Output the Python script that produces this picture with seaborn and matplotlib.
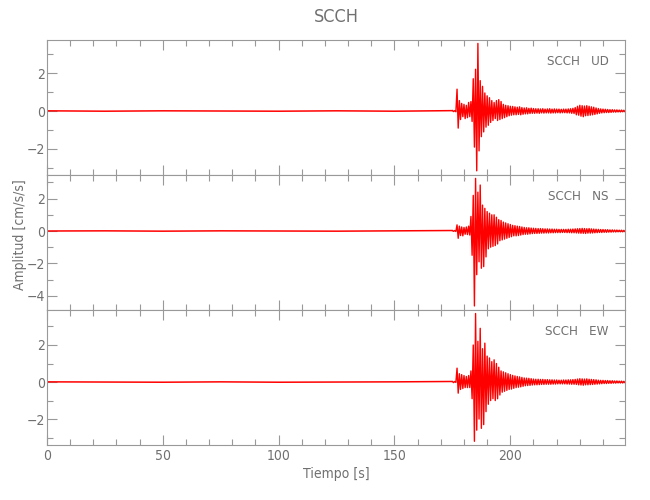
import numpy as np
import pandas as pd
import matplotlib
matplotlib.use('Agg')
import matplotlib.pyplot as plt
from matplotlib.ticker import MultipleLocator
import seaborn as sns

station = 'SCCH'
components = ['UD', 'NS', 'EW']

# tramo tranquilo antes del arribo P (s, cm/s/s)
quiet_time = [0, 25, 50, 75, 100, 125, 150, 175]
quiet_ud = [0.01, -0.01, 0.01, 0.0, -0.01, 0.01, -0.01, 0.02]
quiet_ns = [0.0, 0.01, -0.01, 0.01, 0.0, -0.01, 0.01, 0.03]
quiet_ew = [0.01, 0.0, -0.01, 0.01, -0.01, 0.0, 0.01, 0.03]

# tramo activo: picos leidos cada 0.5 s desde 175 s
t_start = 175.0
dt = 0.5
active_ud = [
    0.03, -0.03, 0.02, -0.04,
    1.15, -0.9, 0.55, -0.45, 0.4, -0.3, 0.35, -0.4, 0.3, -0.35, 0.45, -0.3, 0.5, -0.55,
    1.7, -1.9, 2.2, -3.15, 3.56, -2.1, 1.6, -1.35, 1.3, -1.1, 0.95, -0.85, 0.8, -0.75, 0.7, -0.6, 0.55, -0.5,
    0.45, -0.4, 0.55, -0.5, 0.6, -0.45, 0.5, -0.4, 0.35, -0.35, 0.3, -0.3, 0.28, -0.25,
    0.25, -0.22, 0.24, -0.2, 0.22, -0.2, 0.2, -0.18, 0.22, -0.2, 0.18, -0.17, 0.16, -0.15, 0.17, -0.15, 0.14, -0.13, 0.15, -0.12,
    0.13, -0.12, 0.12, -0.11, 0.12, -0.12, 0.11, -0.1, 0.12, -0.11, 0.1, -0.1, 0.11, -0.1, 0.12, -0.11, 0.1, -0.1,
    0.11, -0.1, 0.1, -0.09, 0.1, -0.1, 0.09, -0.09, 0.1, -0.09, 0.1, -0.1, 0.11, -0.1, 0.12, -0.12, 0.14, -0.13,
    0.18, -0.2, 0.25, -0.22, 0.3, -0.27, 0.28, -0.3, 0.26, -0.25, 0.28, -0.24, 0.25, -0.22, 0.22, -0.2, 0.2, -0.18, 0.16, -0.15,
    0.13, -0.12, 0.11, -0.1, 0.1, -0.09, 0.09, -0.08, 0.08, -0.08, 0.07, -0.07, 0.07, -0.06, 0.06, -0.06, 0.06, -0.05,
    0.05, -0.05, 0.05, -0.04, 0.04, -0.04, 0.03,
]
active_ns = [
    0.03, -0.02, 0.03, -0.03,
    0.38, -0.45, 0.3, -0.28, 0.25, -0.3, 0.22, -0.2, 0.25, -0.22, 0.3, -0.25, 0.9, -1.5,
    2.2, -4.63, 3.25, -2.7, 2.4, -1.9, 2.84, -2.3, 1.6, -2.2, 1.4, -1.6, 1.2, -1.1, 1.1, -1.0, 1.0, -0.95,
    1.0, -0.9, 0.85, -0.8, 0.7, -0.6, 0.65, -0.55, 0.55, -0.5, 0.5, -0.45, 0.45, -0.4,
    0.4, -0.35, 0.35, -0.3, 0.33, -0.3, 0.3, -0.28, 0.28, -0.25, 0.25, -0.22, 0.22, -0.2, 0.2, -0.2, 0.2, -0.18, 0.18, -0.16,
    0.17, -0.15, 0.16, -0.15, 0.15, -0.14, 0.15, -0.13, 0.14, -0.13, 0.13, -0.12, 0.13, -0.12, 0.12, -0.11, 0.12, -0.11,
    0.11, -0.1, 0.11, -0.1, 0.1, -0.1, 0.1, -0.09, 0.1, -0.09, 0.1, -0.1, 0.11, -0.1, 0.11, -0.11, 0.12, -0.11,
    0.13, -0.12, 0.14, -0.13, 0.15, -0.14, 0.16, -0.14, 0.15, -0.15, 0.14, -0.13, 0.15, -0.13, 0.13, -0.12, 0.12, -0.11, 0.11, -0.1,
    0.1, -0.09, 0.09, -0.09, 0.09, -0.08, 0.08, -0.08, 0.08, -0.07, 0.07, -0.07, 0.07, -0.06, 0.06, -0.06, 0.06, -0.05,
    0.05, -0.05, 0.05, -0.05, 0.04, -0.04, 0.04,
]
active_ew = [
    0.03, -0.03, 0.03, -0.02,
    0.75, -0.6, 0.45, -0.4, 0.4, -0.35, 0.35, -0.3, 0.3, -0.3, 0.35, -0.3, 0.6, -0.9,
    2.0, -3.2, 3.7, -2.6, 2.2, -2.0, 2.9, -2.5, 1.8, -2.3, 2.1, -1.6, 1.4, -1.2, 1.3, -1.0, 1.1, -0.9,
    1.2, -1.0, 1.0, -0.9, 0.8, -0.7, 0.6, -0.55, 0.55, -0.5, 0.5, -0.45, 0.45, -0.4,
    0.4, -0.38, 0.36, -0.34, 0.33, -0.3, 0.3, -0.28, 0.28, -0.26, 0.25, -0.23, 0.22, -0.2, 0.21, -0.19, 0.2, -0.18, 0.18, -0.16,
    0.16, -0.15, 0.15, -0.15, 0.15, -0.14, 0.14, -0.13, 0.14, -0.13, 0.13, -0.12, 0.13, -0.12, 0.12, -0.12, 0.12, -0.11,
    0.11, -0.11, 0.11, -0.1, 0.1, -0.1, 0.1, -0.1, 0.11, -0.1, 0.11, -0.11, 0.12, -0.11, 0.12, -0.12, 0.13, -0.12,
    0.14, -0.13, 0.16, -0.15, 0.18, -0.16, 0.17, -0.17, 0.16, -0.15, 0.17, -0.15, 0.15, -0.14, 0.14, -0.13, 0.13, -0.12, 0.12, -0.11,
    0.1, -0.1, 0.09, -0.09, 0.09, -0.08, 0.08, -0.08, 0.08, -0.07, 0.07, -0.07, 0.07, -0.06, 0.06, -0.06, 0.06, -0.05,
    0.05, -0.05, 0.05, -0.05, 0.04, -0.04, 0.04,
]

ylims = {'UD': (-3.37, 3.74), 'NS': (-4.88, 3.46), 'EW': (-3.4, 3.89)}

quiet = {'UD': quiet_ud, 'NS': quiet_ns, 'EW': quiet_ew}
active = {'UD': active_ud, 'NS': active_ns, 'EW': active_ew}

sns.set_style('ticks')
plt.rcParams['font.family'] = ['DejaVu Sans']
plt.rcParams['font.stretch'] = 'condensed'
plt.rcParams['font.weight'] = 'light'

gray_txt = '#707070'
gray_ax = '#999999'
fs = 10

fig = plt.figure(figsize=(6.5, 5), dpi=100)
left, width, h = 47 / 650, 578 / 650, 135 / 500
bottoms = [1 - 175 / 500, 1 - 310 / 500, 1 - 445 / 500]

axes = []
for comp, b in zip(components, bottoms):
    ax = fig.add_axes([left, b, width, h])
    axes.append(ax)

    dq = pd.DataFrame({'t': quiet_time, 'a': quiet[comp]})
    vals = active[comp]
    da = pd.DataFrame({'t': t_start + dt * np.arange(len(vals)), 'a': vals})
    sns.lineplot(data=dq, x='t', y='a', ax=ax, color='red', lw=1.1,
                 estimator=None, sort=False)
    sns.lineplot(data=da, x='t', y='a', ax=ax, color='red', lw=1.0,
                 estimator=None, sort=False)

    ax.set_xlim(0, 249.5)
    ax.set_ylim(*ylims[comp])
    ax.xaxis.set_major_locator(MultipleLocator(50))
    ax.xaxis.set_minor_locator(MultipleLocator(10))
    ax.yaxis.set_major_locator(MultipleLocator(2))
    ax.yaxis.set_minor_locator(MultipleLocator(1))
    ax.tick_params(which='both', direction='in', top=True, right=True,
                   color=gray_ax, labelcolor=gray_txt, labelsize=fs)
    ax.tick_params(axis='y', pad=1.5)
    ax.tick_params(axis='x', pad=3)
    ax.tick_params(which='major', length=7, width=0.8)
    ax.tick_params(which='minor', length=4, width=0.8)
    for s in ax.spines.values():
        s.set_color(gray_ax)
        s.set_linewidth(0.8)
    ax.set_xlabel('')
    ax.set_ylabel('')
    ax.text(0.972, 0.844, f'{station}   {comp}', transform=ax.transAxes,
            ha='right', va='center', fontsize=9.5, color=gray_txt)
    if comp != 'EW':
        ax.tick_params(labelbottom=False)

axes[1].set_ylabel('Amplitud [cm/s/s]', fontsize=fs, color=gray_txt)
axes[1].yaxis.set_label_coords(-0.034, 0.56)
axes[2].set_xlabel('Tiempo [s]', fontsize=fs, color=gray_txt, labelpad=3)
fig.text(336 / 650, 1 - 17 / 500, station, ha='center', va='center',
         fontsize=13, color=gray_txt)

fig.savefig('out.png', dpi=100)
